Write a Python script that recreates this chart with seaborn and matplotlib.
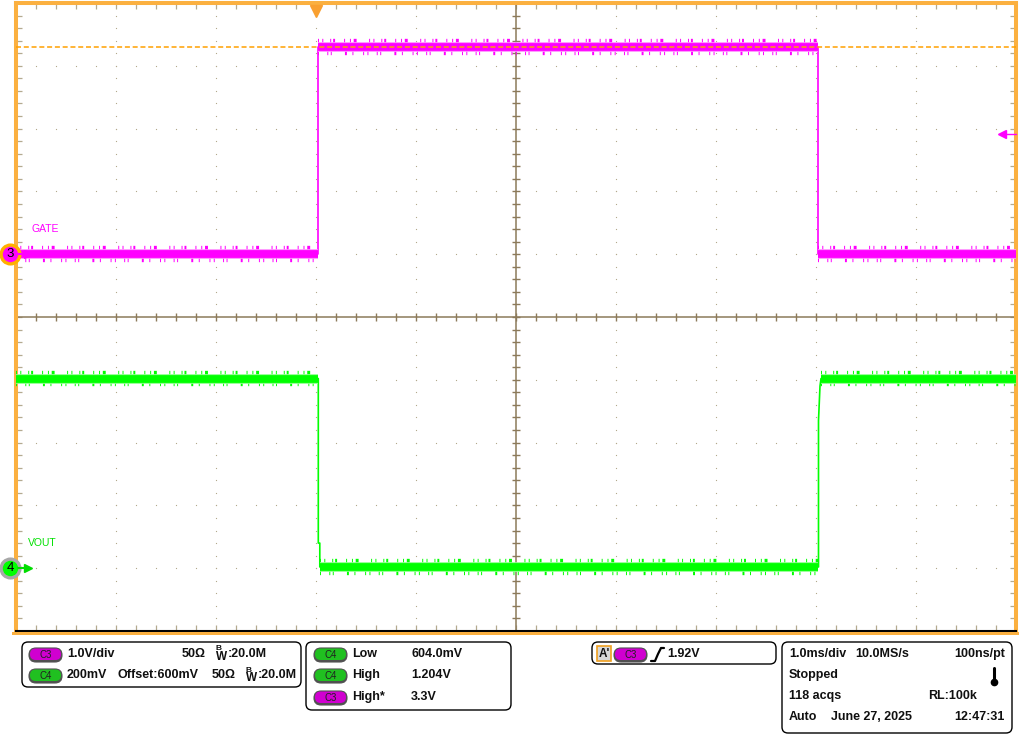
import numpy as np
import pandas as pd
import matplotlib
matplotlib.use("Agg")
import matplotlib.pyplot as plt
import seaborn as sns
from matplotlib.patches import FancyBboxPatch, Rectangle

# scope vertical settings (divisions on screen)
gate_v_per_div = 1.0
gate_zero_div = 1.0
vout_v_per_div = 0.2
vout_ref_v = 0.6
vout_ref_div = -4.0
trigger_level_v = 1.92
trigger_time_ms = -2.0
cursor_high_v = 3.3

# waveforms (time in ms, value in volts)
gate_t = [-5.0, -1.977, -1.977, 3.023, 3.023, 5.0]
gate_v = [0.0, 0.0, 3.3, 3.3, 0.0, 0.0]
vout_t = [-5.0, -1.977, -1.977, -1.962, -1.962, 3.025, 3.025, 3.04, 3.05, 5.0]
vout_v = [1.204, 1.204, 0.68, 0.68, 0.604, 0.604, 1.07, 1.18, 1.204, 1.204]

# info panel texts
ch_rows = [("C3", "1.0V/div", "", "50Ω"), ("C4", "200mV", "Offset:600mV", "50Ω")]
meas_rows = [("C4", "Low", "604.0mV"), ("C4", "High", "1.204V"), ("C3", "High*", "3.3V")]

sns.set_theme(style="white")
plt.rcParams["font.family"] = ["Liberation Sans", "DejaVu Sans"]
plt.rcParams["lines.scale_dashes"] = False

MAGENTA = "#ff00ff"
MAG_LIGHT = "#ff8cff"
GREEN = "#00ff00"
GRN_LIGHT = "#8cff8c"
ORANGE = "#fbb040"
GRIDC = "#b3a88c"
AXC = "#8c7a5a"


def to_div_gate(v):
    return [gate_zero_div + x / gate_v_per_div for x in v]


def to_div_vout(v):
    return [vout_ref_div + (x - vout_ref_v) / vout_v_per_div for x in v]


def plateaus(t, d):
    rows = []
    k = 0
    for i in range(len(t) - 1):
        if d[i] == d[i + 1] and t[i + 1] - t[i] > 0.5:
            rows.append((t[i], d[i], k))
            rows.append((t[i + 1], d[i + 1], k))
            k += 1
    return pd.DataFrame(rows, columns=["t", "div", "seg"])


fig = plt.figure(figsize=(10.24, 7.36), dpi=100)
fig.patch.set_facecolor("white")
ax = fig.add_axes([16 / 1024, (736 - 631) / 736, 1000 / 1024, 628 / 736])
ax.set_xlim(-5, 5)
ax.set_ylim(-5, 5)
ax.set_facecolor("white")

# frame and edge ticks
for side in ["left", "top", "right"]:
    ax.spines[side].set_color(ORANGE)
    ax.spines[side].set_linewidth(2.9)
ax.spines["bottom"].set_color("black")
ax.spines["bottom"].set_linewidth(1.5)
minor = np.arange(-5, 5.001, 0.2)
ax.set_xticks(minor)
ax.set_yticks(minor)
ax.set_xticklabels([])
ax.set_yticklabels([])
ax.tick_params(direction="in", length=4.3, width=0.9, color="#b4aa90",
               top=True, right=True, bottom=True, left=True)

# dotted graticule
for g in range(-4, 5):
    if g == 0:
        continue
    ax.plot([g] * len(minor), minor, ls="", marker="s", ms=0.8, mew=0,
            color=GRIDC, zorder=1)
    ax.plot(minor, [g] * len(minor), ls="", marker="s", ms=0.8, mew=0,
            color=GRIDC, zorder=1)

# center crosshair
ax.axhline(0, color=AXC, lw=1.1, zorder=1)
ax.axvline(0, color=AXC, lw=1.1, zorder=1)
ax.plot(minor, [0] * len(minor), ls="", marker="|", ms=6, mew=1.0, color=AXC, zorder=1)
ax.plot([0] * len(minor), minor, ls="", marker="_", ms=6, mew=1.0, color=AXC, zorder=1)

# traces
spike_a = (0, (0.7, 2.4, 0.7, 5.0, 0.7, 1.4, 1.4, 6.5, 0.7, 3.5, 0.7, 2.0, 2.1, 9.0))
spike_b = (0, (0.7, 6.0, 0.7, 1.8, 0.7, 9.5, 1.4, 4.0, 0.7, 7.0, 0.7, 2.4))
for t, d, col, light in [(gate_t, to_div_gate(gate_v), MAGENTA, MAG_LIGHT),
                         (vout_t, to_div_vout(vout_v), GREEN, GRN_LIGHT)]:
    sns.lineplot(x=t, y=d, sort=False, estimator=None, color=col, lw=1.2,
                 ax=ax, zorder=3, legend=False)
    plat = plateaus(t, d)
    for k, seg in plat.groupby("seg"):
        ax.plot(seg["t"], seg["div"] + 0.06, color=col, lw=6.0, ls=spike_a,
                solid_capstyle="butt", dash_capstyle="butt", zorder=3)
        ax.plot(seg["t"], seg["div"] - 0.06, color=col, lw=6.0, ls=spike_b,
                solid_capstyle="butt", dash_capstyle="butt", zorder=3)
    sns.lineplot(data=plat, x="t", y="div", units="seg", estimator=None, sort=False,
                 color=light, lw=7.0, ax=ax, zorder=4, legend=False,
                 solid_capstyle="butt")
    sns.lineplot(data=plat, x="t", y="div", units="seg", estimator=None, sort=False,
                 color=col, lw=5.6, ax=ax, zorder=4, legend=False,
                 solid_capstyle="butt")

# cursor line at gate high level
ax.axhline(gate_zero_div + cursor_high_v / gate_v_per_div, color="#ffa000",
           lw=1.1, ls=(0, (3.6, 2.0)), zorder=5)

# trigger time marker and trigger level arrow
ax.plot([trigger_time_ms], [4.88], marker="v", ms=8.5, color="#f9a030", ls="",
        clip_on=False, zorder=6)
lvl = gate_zero_div + trigger_level_v / gate_v_per_div
ax.plot([4.86, 5.0], [lvl, lvl], color=MAGENTA, lw=1.0, clip_on=False, zorder=6)
ax.plot([4.86], [lvl], marker="<", ms=6, color=MAGENTA, ls="", zorder=6)

# channel ground markers
for num, yd, fc, ec, col in [("3", gate_zero_div, MAGENTA, "#ffb000", MAGENTA),
                             ("4", vout_ref_div, GREEN, "#a8a8a8", "#00dd00")]:
    ax.plot([-5.06], [yd], marker="o", ms=13.5, mfc=fc, mec=ec, mew=2.4,
            ls="", clip_on=False, zorder=10)
    ax.text(-5.06, yd, num, ha="center", va="center", fontsize=9.5, color="black",
            zorder=11, clip_on=False)
    ax.plot([-4.98, -4.88], [yd, yd], color=col, lw=1.5, clip_on=False, zorder=10)
    ax.plot([-4.88], [yd], marker=">", ms=5.5, color=col, ls="", clip_on=False, zorder=10)

ax.text(-4.85, 1.4, "GATE", color=MAGENTA, fontsize=7.5, va="center", ha="left")
ax.text(-4.88, -3.6, "VOUT", color="#00e000", fontsize=7.5, va="center", ha="left")
ax.set_xlabel("")
ax.set_ylabel("")

# info panels in pixel coordinates
ov = fig.add_axes([0, 0, 1, 1])
ov.set_xlim(0, 1024)
ov.set_ylim(736, 0)
ov.axis("off")
ov.add_patch(Rectangle((12, 631.5), 1007, 3.5, color=ORANGE, lw=0))


def panel(x0, y0, x1, y1):
    ov.add_patch(FancyBboxPatch((x0, y0), x1 - x0, y1 - y0,
                                boxstyle="round,pad=0,rounding_size=6",
                                fc="white", ec="black", lw=1.0))


def pill(x, yc, label):
    fc = "#d000d0" if label == "C3" else "#20c020"
    ov.add_patch(FancyBboxPatch((x, yc - 7), 33, 14,
                                boxstyle="round,pad=0,rounding_size=7",
                                fc="#505050", ec="#505050", lw=0.8))
    ov.add_patch(FancyBboxPatch((x + 1, yc - 6.5), 31, 11.5,
                                boxstyle="round,pad=0,rounding_size=5.7",
                                fc=fc, ec="none"))
    ov.text(x + 16.5, yc, label, ha="center", va="center", fontsize=7,
            color="#202020")


def txt(x, y, s, ha="left", size=9):
    ov.text(x, y, s, ha=ha, va="center", fontsize=size, fontweight="bold",
            color="#101010")


def bw(x, y):
    txt(x, y - 5, "B", size=6)
    txt(x + 1, y + 3, "W", size=8.5)
    txt(x + 13, y, ":20.0M")


panel(22, 642, 301, 687)
rows_y = [654, 675, 697, 717]
for (ch, a, b, ohm), y, xbw in zip(ch_rows, rows_y, [215, 245]):
    pill(29, y + 1, ch)
    txt(67, y, a)
    if b:
        txt(117, y, b)
    txt(xbw - 33, y, ohm)
    bw(xbw, y)

panel(306, 642, 511, 710)
for (ch, name, val), y in zip(meas_rows, rows_y):
    pill(314, y + 1, ch)
    txt(352, y, name)
    txt(411, y, val)

panel(592, 642, 776, 664)
ov.add_patch(Rectangle((597, 646), 14, 15, fc="#d8d8d8", ec="#f0a020", lw=1.2))
txt(599, 654, "A'", size=8.5)
pill(614, 655, "C3")
ov.plot([651, 655, 658, 661, 664], [661, 661, 654, 648, 648], color="black", lw=1.6)
txt(667, 654, "1.92V")

panel(782, 642, 1012, 733)
txt(789, 654, "1.0ms/div")
txt(855, 654, "10.0MS/s")
txt(1005, 654, "100ns/pt", ha="right")
txt(789, 675, "Stopped")
ov.plot([994, 994], [668, 680], color="black", lw=2.2, solid_capstyle="round")
ov.plot([994], [682], marker="o", ms=4.5, color="black")
txt(789, 696, "118 acqs")
txt(977, 696, "RL:100k", ha="right")
txt(789, 717, "Auto")
txt(831, 717, "June 27, 2025")
txt(1005, 717, "12:47:31", ha="right")

fig.savefig("out.png", dpi=100)
